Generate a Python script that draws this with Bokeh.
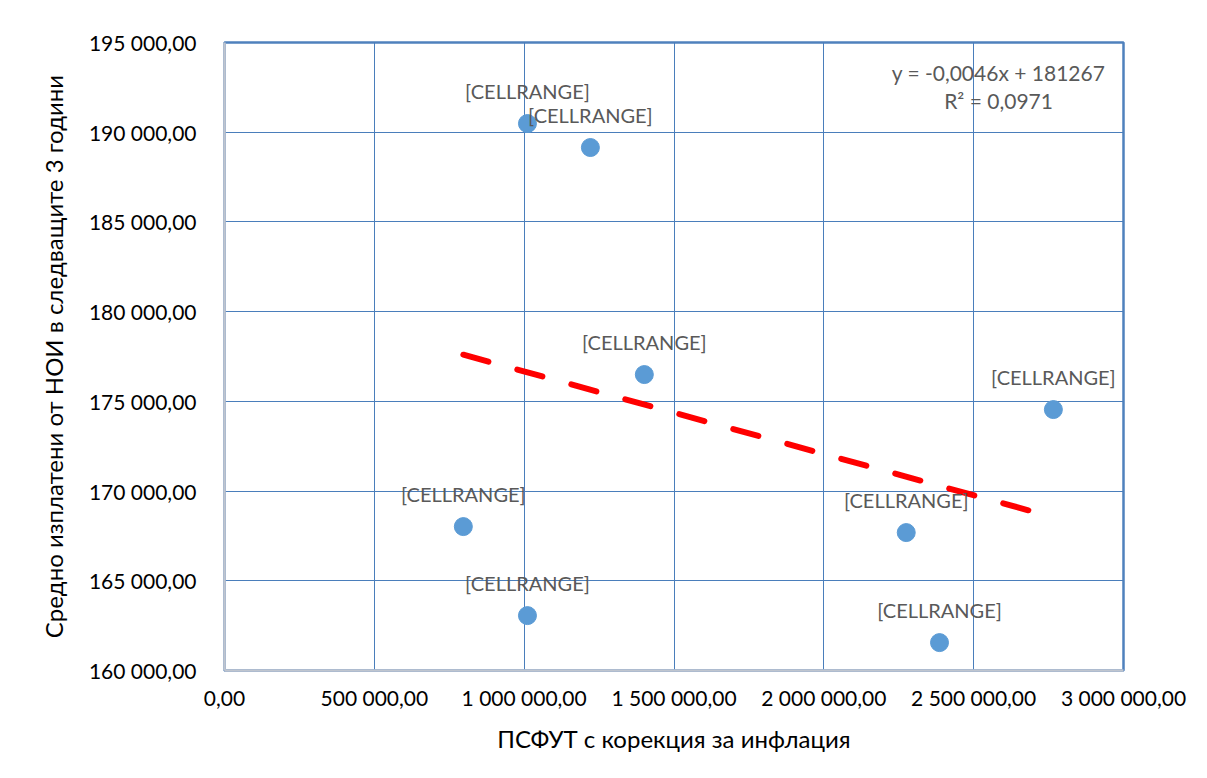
from bokeh.plotting import figure
from bokeh.models import (ColumnDataSource, LabelSet, Label, FixedTicker, Range1d)
from bokeh.core.properties import value
from bokeh.embed import file_html
from bokeh.resources import INLINE

# ---- data ----
x_vals = [1011000, 1221000, 1401000, 2766000, 797000, 2275000, 1011000, 2386000]
y_vals = [190485, 189147, 176494, 174543, 168021, 167687, 163060, 161555]
point_labels = ["[CELLRANGE]"] * 8

trend_slope = -0.0046
trend_intercept = 181267
equation_text = "y = -0,0046x + 181267"
r2_text = "R² = 0,0971"

x_ticks = [0, 500000, 1000000, 1500000, 2000000, 2500000, 3000000]
x_tick_labels = ["0,00", "500 000,00", "1 000 000,00", "1 500 000,00",
                 "2 000 000,00", "2 500 000,00", "3 000 000,00"]
y_ticks = [160000, 165000, 170000, 175000, 180000, 185000, 190000, 195000]
y_tick_labels = ["160 000,00", "165 000,00", "170 000,00", "175 000,00",
                 "180 000,00", "185 000,00", "190 000,00", "195 000,00"]

x_title = "ПСФУТ с корекция за инфлация"
y_title = "Средно изплатени от НОИ в следващите 3 години"

FONT = "Lato"

p = figure(width=1191, height=762, output_backend="svg", toolbar_location=None,
           x_range=Range1d(0, 3000000), y_range=Range1d(160000, 195000),
           min_border_left=224, min_border_right=68, min_border_top=42,
           min_border_bottom=92)

p.background_fill_color = "white"
p.border_fill_color = "white"
p.outline_line_color = "#4F81BD"
p.outline_line_width = 2.5

for ax, ticks, labels in ((p.xaxis[0], x_ticks, x_tick_labels), (p.yaxis[0], y_ticks, y_tick_labels)):
    ax.ticker = FixedTicker(ticks=ticks)
    ax.major_label_overrides = {t: l for t, l in zip(ticks, labels)}
    ax.major_tick_line_color = None
    ax.minor_tick_line_color = None
    ax.axis_line_color = "#BFC5CF"
    ax.axis_line_width = 2.5
    ax.major_label_text_font = FONT
    ax.major_label_text_font_size = "21px"
    ax.major_label_text_color = "#000000"
    ax.axis_label_text_font = FONT
    ax.axis_label_text_font_size = "24px"
    ax.axis_label_text_font_style = "normal"
    ax.axis_label_text_color = "#000000"

p.xaxis.axis_label = x_title
p.yaxis.axis_label = y_title
p.xaxis.major_label_standoff = 8
p.yaxis.major_label_standoff = 22
p.xaxis.axis_label_standoff = 11
p.yaxis.axis_label_standoff = 18

p.grid.grid_line_color = "#4A7EBB"
p.grid.grid_line_width = 1
p.grid.grid_line_alpha = 1.0
p.xgrid.ticker = FixedTicker(ticks=x_ticks)
p.ygrid.ticker = FixedTicker(ticks=y_ticks)

# trend line (from the equation), over the data's x extent
tx = [min(x_vals), max(x_vals)]
ty = [trend_slope * v + trend_intercept for v in tx]
p.line(tx, ty, line_color="#FF0000", line_width=6, line_dash="26 30", line_cap="round")

src = ColumnDataSource(dict(x=x_vals, y=y_vals, label=point_labels))
p.scatter("x", "y", source=src, size=18, color="#5B9BD5", line_color="#5B9BD5")

labels = LabelSet(x="x", y="y", text="label", source=src, y_offset=33,
                  text_align="center", text_baseline="middle",
                  text_font=value(FONT), text_font_size=value("20px"),
                  text_color=value("#595959"))
p.add_layout(labels)

eq_x = 2583000
p.add_layout(Label(x=eq_x, y=193330, text=equation_text, text_align="center",
                   text_baseline="middle", text_font=FONT, text_font_size="21px",
                   text_color="#595959"))
p.add_layout(Label(x=eq_x, y=191770, text=r2_text, text_align="center",
                   text_baseline="middle", text_font=FONT, text_font_size="21px",
                   text_color="#595959"))

open("out.html", "w").write(file_html(p, INLINE))
